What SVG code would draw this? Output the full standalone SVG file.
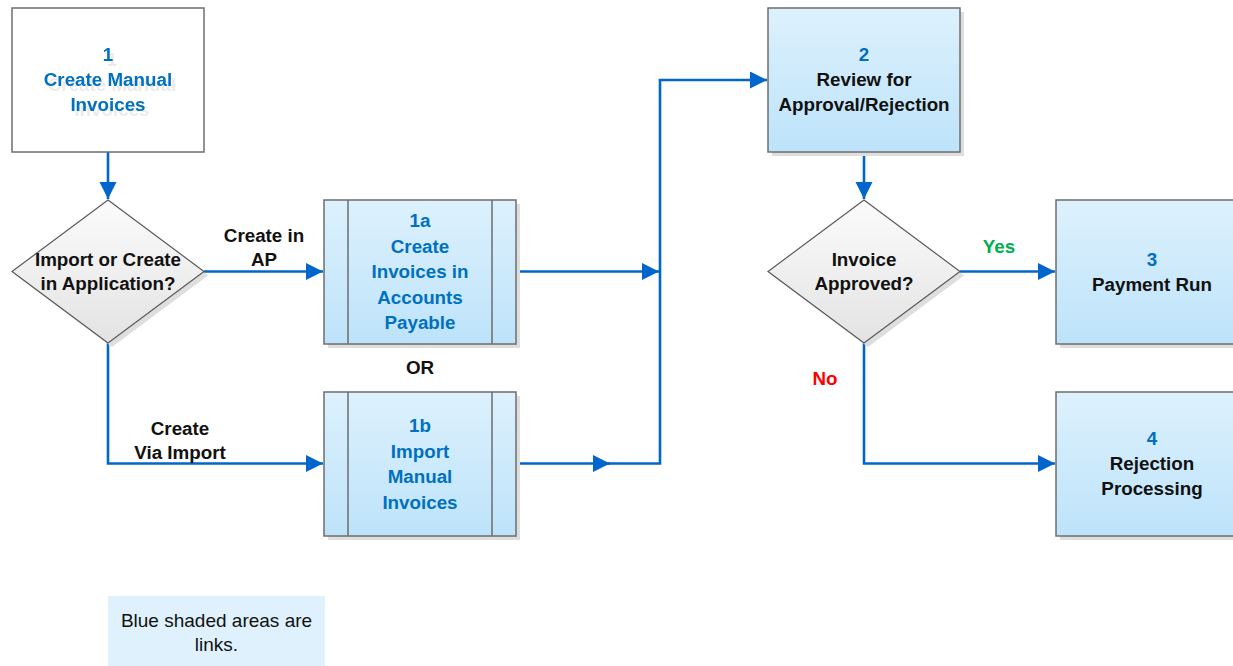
<svg xmlns="http://www.w3.org/2000/svg" width="1233" height="666" viewBox="0 0 1233 666">
  <style>
    text { font-family: "Liberation Sans", Arial, sans-serif; font-size: 18.8px; font-weight: bold; text-anchor: middle; }
    .blue { fill: #0070C0; }
    .dark { fill: #111111; }
    .box { stroke: #6e6e6e; stroke-width: 1.5; }
    .link { fill: url(#linkFill); }
    .plain { fill: #ffffff; }
    .decision { fill: url(#decisionFill); stroke: #5a5a5a; stroke-width: 1.2; }
    .shadow { fill: #dedede; }
    .sub { stroke: #6e6e6e; stroke-width: 1.5; fill: none; }
    .conn { fill: none; stroke: #0066CC; stroke-width: 2.6; }
    .legend { font-weight: normal; font-size: 19px; fill: #111111; }
  </style>
  <defs>
    <linearGradient id="linkFill" x1="0" y1="0" x2="0" y2="1">
      <stop offset="0" stop-color="#ddf1fd"/>
      <stop offset="1" stop-color="#bde3fa"/>
    </linearGradient>
    <linearGradient id="decisionFill" x1="0" y1="0" x2="0" y2="1">
      <stop offset="0" stop-color="#fbfbfb"/>
      <stop offset="1" stop-color="#e3e3e3"/>
    </linearGradient>
    <marker id="arrow" markerUnits="userSpaceOnUse" markerWidth="18" markerHeight="18" refX="17" refY="8.5" orient="auto">
      <path d="M0,0 L17,8.5 L0,17 z" fill="#0066CC"/>
    </marker>
    <filter id="textShadow" x="-10%" y="-10%" width="130%" height="140%">
      <feDropShadow dx="4" dy="5" stdDeviation="0.7" flood-color="#000000" flood-opacity="0.08"/>
    </filter>
  </defs>

  <!-- connectors -->
  <g id="connectors">
    <path class="conn" d="M108,152 V199" marker-end="url(#arrow)"/>
    <path class="conn" d="M204,271.5 H323" marker-end="url(#arrow)"/>
    <path class="conn" d="M108,343 V463.5 H323" marker-end="url(#arrow)"/>
    <path class="conn" d="M516,271.5 H659" marker-end="url(#arrow)"/>
    <path class="conn" d="M516,463.5 H610" marker-end="url(#arrow)"/>
    <path class="conn" d="M608,463.5 H660 V80 H767" marker-end="url(#arrow)"/>
    <path class="conn" d="M864,152 V199" marker-end="url(#arrow)"/>
    <path class="conn" d="M960,271.5 H1055" marker-end="url(#arrow)"/>
    <path class="conn" d="M864,343 V463.5 H1055" marker-end="url(#arrow)"/>
  </g>

  <!-- 1 Create Manual Invoices -->
  <g id="node-1">
    <rect class="box plain" x="12" y="8" width="192" height="144"/>
    <g filter="url(#textShadow)">
      <text class="blue" x="108" y="61">1</text>
      <text class="blue" x="108" y="86">Create Manual</text>
      <text class="blue" x="108" y="111">Invoices</text>
    </g>
  </g>

  <!-- Import or Create decision -->
  <g id="decision-import">
    <polygon class="shadow" points="112,204 208,275.5 112,347 16,275.5"/>
    <polygon class="decision" points="108,200 204,271.5 108,343 12,271.5"/>
    <text class="dark" x="108" y="266">Import or Create</text>
    <text class="dark" x="108" y="290">in Application?</text>
  </g>

  <g id="label-create-ap">
    <text class="dark" x="264" y="242">Create in</text>
    <text class="dark" x="264" y="266">AP</text>
  </g>
  <g id="label-create-import">
    <text class="dark" x="180" y="435">Create</text>
    <text class="dark" x="180" y="459">Via Import</text>
  </g>

  <!-- 1a Create Invoices in Accounts Payable -->
  <g id="node-1a">
    <rect class="shadow" x="328" y="204" width="192" height="144"/>
    <rect class="box link" x="324" y="200" width="192" height="144"/>
    <path class="sub" d="M348,200 V344 M492,200 V344"/>
    <text class="blue" x="420" y="227">1a</text>
    <text class="blue" x="420" y="252.5">Create</text>
    <text class="blue" x="420" y="278">Invoices in</text>
    <text class="blue" x="420" y="303.5">Accounts</text>
    <text class="blue" x="420" y="329">Payable</text>
  </g>

  <g id="label-or">
    <text class="dark" x="420" y="374">OR</text>
  </g>

  <!-- 1b Import Manual Invoices -->
  <g id="node-1b">
    <rect class="shadow" x="328" y="396" width="192" height="144"/>
    <rect class="box link" x="324" y="392" width="192" height="144"/>
    <path class="sub" d="M348,392 V536 M492,392 V536"/>
    <text class="blue" x="420" y="432">1b</text>
    <text class="blue" x="420" y="457.5">Import</text>
    <text class="blue" x="420" y="483">Manual</text>
    <text class="blue" x="420" y="508.5">Invoices</text>
  </g>

  <!-- 2 Review for Approval/Rejection -->
  <g id="node-2">
    <rect class="shadow" x="772" y="12" width="192" height="144"/>
    <rect class="box link" x="768" y="8" width="192" height="144"/>
    <text class="blue" x="864" y="61">2</text>
    <text class="dark" x="864" y="86">Review for</text>
    <text class="dark" x="864" y="111">Approval/Rejection</text>
  </g>

  <!-- Invoice Approved decision -->
  <g id="decision-approved">
    <polygon class="shadow" points="868,204 964,275.5 868,347 772,275.5"/>
    <polygon class="decision" points="864,200 960,271.5 864,343 768,271.5"/>
    <text class="dark" x="864" y="266">Invoice</text>
    <text class="dark" x="864" y="290">Approved?</text>
  </g>

  <g id="label-yes">
    <text x="999" y="253" fill="#00B050">Yes</text>
  </g>
  <g id="label-no">
    <text x="825" y="385" fill="#FF0000">No</text>
  </g>

  <!-- 3 Payment Run -->
  <g id="node-3">
    <rect class="shadow" x="1060" y="204" width="192" height="144"/>
    <rect class="box link" x="1056" y="200" width="192" height="144"/>
    <text class="blue" x="1152" y="266">3</text>
    <text class="dark" x="1152" y="291">Payment Run</text>
  </g>

  <!-- 4 Rejection Processing -->
  <g id="node-4">
    <rect class="shadow" x="1060" y="396" width="192" height="144"/>
    <rect class="box link" x="1056" y="392" width="192" height="144"/>
    <text class="blue" x="1152" y="445">4</text>
    <text class="dark" x="1152" y="470">Rejection</text>
    <text class="dark" x="1152" y="495">Processing</text>
  </g>

  <!-- legend -->
  <g id="legend">
    <rect x="108" y="596" width="217" height="72" fill="#def1fd"/>
    <text class="legend" x="216.5" y="627">Blue shaded areas are</text>
    <text class="legend" x="216.5" y="651">links.</text>
  </g>
</svg>
